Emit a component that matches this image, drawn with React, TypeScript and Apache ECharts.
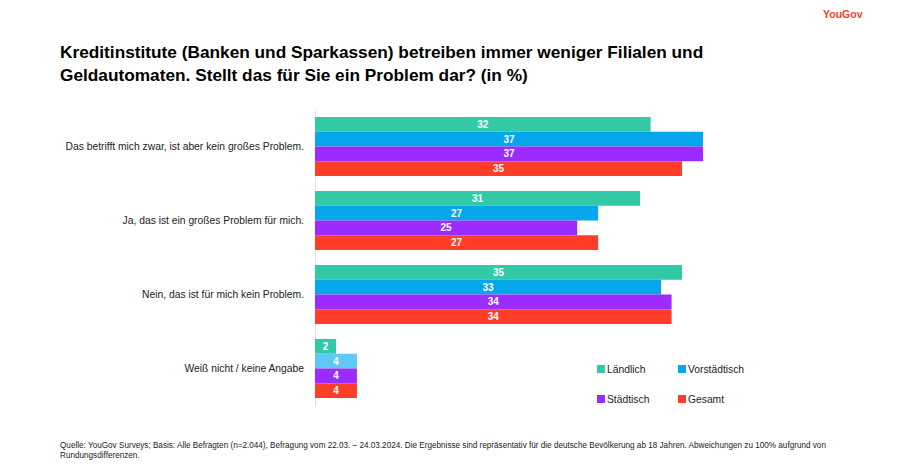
import React, { useEffect, useRef } from "react";
import * as echarts from "echarts";

const categories = [
  "Das betrifft mich zwar, ist aber kein großes Problem.",
  "Ja, das ist ein großes Problem für mich.",
  "Nein, das ist für mich kein Problem.",
  "Weiß nicht / keine Angabe",
];
const seriesNames = ["Ländlich", "Vorstädtisch", "Städtisch", "Gesamt"];
const laendlich = [32, 31, 35, 2];
const vorstaedtisch = [37, 27, 33, 4];
const staedtisch = [37, 25, 34, 4];
const gesamt = [35, 27, 34, 4];
const colors = ["#32c9a6", "#05a6ec", "#9b2bff", "#ff3d29"];

const title1 = "Kreditinstitute (Banken und Sparkassen) betreiben immer weniger Filialen und";
const title2 = "Geldautomaten. Stellt das für Sie ein Problem dar? (in %)";
const foot1 =
  "Quelle: YouGov Surveys; Basis: Alle Befragten (n=2.044), Befragung vom 22.03. – 24.03.2024. Die Ergebnisse sind repräsentativ für die deutsche Bevölkerung ab 18 Jahren. Abweichungen zu 100% aufgrund von";
const foot2 = "Rundungsdifferenzen.";

export default function App() {
  const ref = useRef<HTMLDivElement>(null);
  useEffect(() => {
    const chart = echarts.init(ref.current!, null, { renderer: "svg" });
    const data = [laendlich, vorstaedtisch, staedtisch, gesamt];
    const font = "'Liberation Sans', Arial, sans-serif";
    const legendPos = [
      { left: 592, top: 359 },
      { left: 673, top: 359 },
      { left: 592, top: 389 },
      { left: 673, top: 389 },
    ];
    chart.setOption({
      animation: false,
      backgroundColor: "#ffffff",
      grid: { left: 315, top: 109.5, width: 419.5, height: 296, containLabel: false },
      xAxis: {
        type: "value",
        min: 0,
        max: 40,
        show: false,
        splitLine: { show: false },
      },
      yAxis: {
        type: "category",
        data: categories,
        inverse: true,
        axisLine: { show: true, lineStyle: { color: "#e2e2e2", width: 1 } },
        axisTick: { show: false },
        axisLabel: {
          margin: 11,
          fontSize: 10.3,
          color: "#222222",
          fontFamily: font,
        },
      },
      legend: seriesNames.map((n, i) => ({
        data: [n],
        left: legendPos[i].left,
        top: legendPos[i].top,
        itemWidth: 8,
        itemHeight: 8,
        icon: "rect",
        itemGap: 0,
        textStyle: { fontSize: 10.3, color: "#222222", fontFamily: font, padding: [0, 0, 0, -3] },
      })),
      series: seriesNames.map((n, i) => ({
        name: n,
        type: "bar",
        data: data[i].map((v, j) =>
          i === 1 && j === 3 ? { value: v, itemStyle: { color: "#5ec8f6" } } : v
        ),
        itemStyle: { color: colors[i] },
        barGap: "0%",
        barCategoryGap: "20%",
        label: {
          show: true,
          position: "inside",
          color: "#ffffff",
          fontWeight: "bold",
          fontSize: 10,
          fontFamily: font,
        },
      })),
      graphic: [
        {
          type: "text",
          left: 823,
          top: 8,
          style: { text: "YouGov", fill: "#ff3d29", fontSize: 10.5, fontWeight: "bold", fontFamily: font },
        },
        {
          type: "text",
          left: 60,
          top: 43,
          style: { text: title1, fill: "#000000", fontSize: 17.25, fontWeight: "bold", fontFamily: font },
        },
        {
          type: "text",
          left: 60,
          top: 66,
          style: { text: title2, fill: "#000000", fontSize: 17.25, fontWeight: "bold", fontFamily: font },
        },
        {
          type: "text",
          x: 60,
          y: 440,
          scaleX: 0.86,
          style: { text: foot1, fill: "#222222", fontSize: 9.5, fontFamily: font },
        },
        {
          type: "text",
          x: 60,
          y: 450,
          scaleX: 0.86,
          style: { text: foot2, fill: "#222222", fontSize: 9.5, fontFamily: font },
        },
      ],
    });
    return () => chart.dispose();
  }, []);
  return <div ref={ref} style={{ width: 900, height: 465, position: "absolute", left: 0, top: 0 }} />;
}
